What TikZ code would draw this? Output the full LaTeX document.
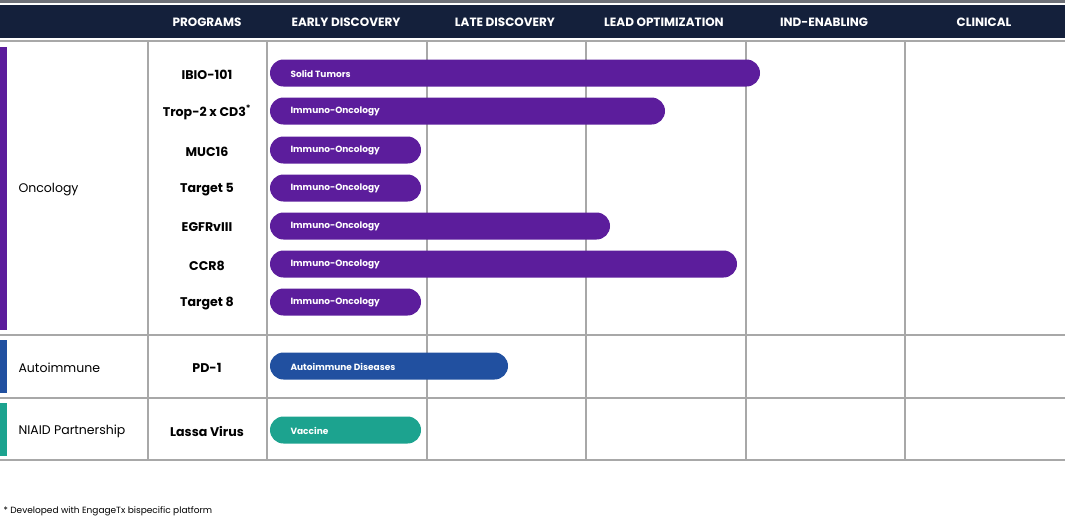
\documentclass[tikz,border=0pt]{standalone}
\usepackage{fontspec}
\setmainfont{Poppins}
\definecolor{navy}{HTML}{14203B}
\definecolor{gridc}{HTML}{A8A8A8}
\definecolor{oncc}{HTML}{5C1D9C}
\definecolor{autoc}{HTML}{2150A0}
\definecolor{vaccc}{HTML}{1CA38F}
\definecolor{topg}{HTML}{6E7178}
\begin{document}
\begin{tikzpicture}[x=1pt,y=-1pt,
  hdr/.style={text=white,yshift=-1pt,font=\fontsize{12}{14}\selectfont\bfseries},
  prog/.style={text=black,yshift=-1.5pt,font=\fontsize{12.6}{14}\selectfont\bfseries},
  cat/.style={anchor=west,text=black,yshift=-1.5pt,font=\fontsize{12.5}{14}\selectfont},
  bar/.style={rounded corners=13.5pt,inner sep=0pt},
  blab/.style={anchor=west,text=white,yshift=-0.5pt,font=\fontsize{9}{11}\selectfont\bfseries},
  gridline/.style={draw=gridc,line width=1.1pt}]
\useasboundingbox (0,0) rectangle (1065,517);
\fill[topg] (0,0) rectangle (1065,3);
\fill[navy] (0,5) rectangle (1065,38);
% header labels
\node[hdr] (hprog) at (207,21.5) {PROGRAMS};
\node[hdr] (hearly) at (346,21.5) {EARLY DISCOVERY};
\node[hdr] (hlate) at (505,21.5) {LATE DISCOVERY};
\node[hdr] (hlead) at (664,21.5) {LEAD OPTIMIZATION};
\node[hdr] (hind) at (824,21.5) {IND-ENABLING};
\node[hdr] (hclin) at (984,21.5) {CLINICAL};
% grid
\foreach \y in {41,335,398,460} \draw[gridline] (0,\y) -- (1065,\y);
\foreach \x in {148,267,427,586,746,905} \draw[gridline] (\x,41) -- (\x,460);
% category side bars
\fill[oncc] (0,47) rectangle (7,330);
\fill[autoc] (0,340) rectangle (7,393);
\fill[vaccc] (0,403) rectangle (7,456);
\node[cat] (conc) at (15,188) {Oncology};
\node[cat] (cauto) at (15,366) {Autoimmune};
\node[cat] (cniaid) at (15,430) {NIAID Partnership};
% programs and bars
\foreach \name/\y/\xe/\lab/\col [count=\i] in {
  IBIO-101/73/760/Solid Tumors/oncc,
  Trop-2 x CD3\textsuperscript{*}/111/665/Immuno-Oncology/oncc,
  MUC16/150/421/Immuno-Oncology/oncc,
  Target 5/188/421/Immuno-Oncology/oncc,
  EGFRvIII/226/610/Immuno-Oncology/oncc,
  CCR8/264/737/Immuno-Oncology/oncc,
  Target 8/302/421/Immuno-Oncology/oncc,
  PD-1/366/508/Autoimmune Diseases/autoc,
  Lassa Virus/430/421/Vaccine/vaccc}{
  \node[prog] (p\i) at (207,\y) {\name};
  \fill[\col,bar] (270,\y-13.5) rectangle (\xe,\y+13.5);
  \node[blab] (b\i) at (287,\y) {\lab};
}
\node[anchor=west,font=\fontsize{9}{11}\selectfont] (foot) at (0,511.5) {* Developed with EngageTx bispecific platform};
\end{tikzpicture}
\end{document}
